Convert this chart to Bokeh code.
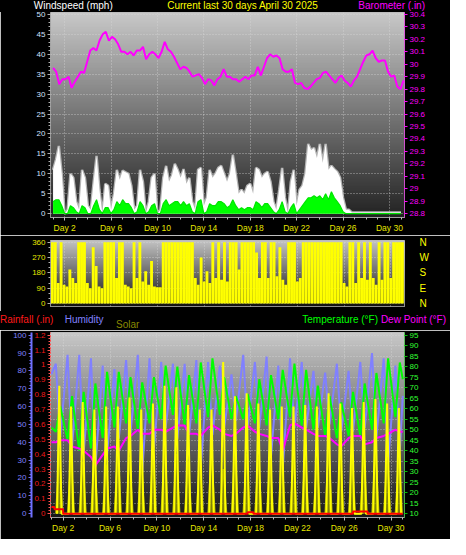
import numpy as np
from bokeh.plotting import figure
from bokeh.layouts import column
from bokeh.models import Range1d, LinearAxis, FixedTicker, CustomJSTickFormatter, Grid, Div
from bokeh.embed import file_html
from bokeh.resources import INLINE

# ------------------------------------------------------------------ data
TITLE = "Current last 30 days April 30 2025"
DAY_TICKS = [2, 6, 10, 14, 18, 22, 26, 30]
START_HOUR = 21          # data window starts Mar 31 21:00
SPAN_DAYS = 30.0

# Barometer (in), evenly sampled over the window
BARO = [29.97, 29.94, 29.84, 29.88, 29.88, 29.90, 29.81, 29.86, 29.90, 29.94,
        29.93, 30.02, 30.11, 30.13, 30.11, 30.19, 30.24, 30.26, 30.19, 30.22,
        30.20, 30.16, 30.10, 30.10, 30.08, 30.10, 30.07, 30.11, 30.11, 30.14,
        30.04, 30.08, 30.10, 30.08, 30.05, 30.10, 30.18, 30.12, 30.10, 30.06,
        30.01, 29.96, 29.98, 29.97, 29.94, 29.90, 29.91, 29.92, 29.89, 29.84,
        29.88, 29.87, 29.83, 29.88, 29.90, 29.96, 29.90, 29.90, 29.88, 29.88,
        29.86, 29.88, 29.90, 29.88, 29.91, 29.91, 29.98, 29.91, 29.98, 30.05,
        30.08, 30.06, 30.07, 30.05, 29.96, 29.94, 29.94, 29.96, 29.85, 29.84,
        29.85, 29.81, 29.80, 29.82, 29.85, 29.88, 29.89, 29.93, 29.94, 29.91,
        29.88, 29.85, 29.89, 29.91, 29.87, 29.85, 29.82, 29.87, 29.90, 29.96,
        30.02, 30.07, 30.08, 30.11, 30.05, 30.02, 30.03, 30.03, 29.94, 29.90,
        29.91, 29.82, 29.80, 29.87]
BARO_SPAN_DAYS = 30.22

# 6-hourly wind gust / average (mph), direction (deg), rain (in)
STEP_DAYS = 0.25
GUST = [11, 13.5, 17, 10, 0, 1, 10, 9, 3, 1, 11, 9, 2, 1, 8, 14.5, 6, 0, 7.5, 7,
        1, 5, 11, 8.5, 10.8, 10.4, 10, 7, 1, 2, 11, 8, 0, 3, 9, 10, 0, 1, 9, 12,
        8, 9.6, 12.5, 11, 9, 11.2, 7.5, 9,
        3, 1, 11, 11.5, 2, 4, 11, 9, 10, 11.5, 12, 10, 8, 10, 14.8, 10, 5, 6, 5, 7,
        7.5, 5, 11.5, 11, 9, 10, 10.5, 8, 3, 1, 6, 11.5, 4, 0, 8, 11, 2, 6, 7, 10,
        17.5, 16, 16.5, 14, 17.5, 12.8, 17.5, 11, 12, 11.2, 10.5, 9, 4, 1, 1, 0.3,
        0.3, 0.3, 0.3, 0.3, 0.3, 0.3, 0.3, 0.3, 0.3, 0.3, 0.3, 0.3, 0.3, 0.3, 0.3,
        0.3, 0.3]
AVG = [3, 3.5, 3.5, 2, 0, 0, 2, 1.5, 0.5, 0, 2, 1.5, 0, 0, 2, 3.5, 1, 0, 1.5, 1.5,
       0, 1, 3, 2, 3.5, 2.5, 2.5, 1.5, 0, 0.5, 3, 2, 0, 0.5, 2, 2.5, 0, 0, 2.5, 3.5,
       2, 2.5, 3, 3, 2, 3, 2, 2.5,
       0.5, 0, 3, 3.5, 0, 0.5, 2.5, 2, 2, 3, 3, 2.5, 1.5, 2, 3.5, 2, 1, 1.5, 1, 1.5,
       1.5, 1, 3, 2.5, 1.5, 2.5, 2.5, 1.5, 0.5, 0, 1, 3, 0.5, 0, 1.5, 2.5, 0, 1, 2, 3,
       4, 4, 4.5, 4, 4.5, 3.5, 5, 3.5, 5.5, 4, 3, 2, 0.5,
       0, 0, 0, 0, 0, 0, 0, 0, 0, 0, 0, 0, 0, 0, 0, 0, 0, 0, 0, 0]
WIND_DIR = [360, 360, 120, 360, 110, 100, 200, 150, 120, 360,
            360, 360, 120, 90, 330, 220, 100, 90, 360, 360,
            360, 360, 150, 360, 360, 110, 100, 90, 360, 150,
            360, 130, 190, 110, 250, 100, 95, 95, 360, 360,
            360, 360, 360, 360, 360, 360, 360, 360, 360, 150,
            110, 270, 130, 190, 120, 360, 150, 360, 140, 360,
            130, 360, 360, 360, 200, 360, 360, 360, 360, 360,
            300, 150, 360, 360, 150, 360, 360, 160, 330, 140,
            110, 360, 360, 360, 130, 150, 360, 360, 360, 360,
            360, 360, 360, 360, 360, 360, 360, 360, 360, 360,
            120, 100, 360, 360, 120, 360, 150, 360, 140, 360,
            150, 110, 360, 140, 360, 360, 150, 360, 360, 360,
            360]
RAIN = [0.045, 0.03, 0.03, 0.03] + [0.0] * 63 + [0.01, 0.01] + [0.0] * 34 + [0.015] * 5 + [0.0] * 13

# daily values, April 1 .. April 30
HUM_MAX = [84, 89, 89, 87, 83, 81, 86, 89, 87, 85, 84, 84, 86, 85, 83,
           78, 89, 85, 88, 83, 87, 85, 80, 79, 84, 80, 85, 90, 87, 83]
HUM_MIN = [43, 37, 34, 26, 33, 42, 45, 23, 37, 48, 42, 44, 26, 44, 48,
           52, 48, 48, 32, 25, 48, 48, 48, 50, 46, 46, 48, 43, 28, 35]
TEMP_MIN = [49, 45, 40, 41, 46, 51, 53, 50, 53, 55, 57, 52, 53, 56, 57,
            55, 55, 53, 52, 55, 56, 52, 50, 47, 46, 47, 47, 50, 53, 56]
TEMP_MAX = [61, 66, 68, 72, 77.5, 77.5, 75, 72.5, 75, 80.5, 80, 76, 82, 84, 75,
            66, 67, 74, 76, 78.5, 81.5, 78.5, 71, 66, 63, 68, 72, 77, 84, 82]
DEW_AM = [44, 45, 41, 37, 38, 42, 46, 50, 48, 50, 51, 52, 48, 51, 50,
          47, 51, 49, 47, 46, 52, 51, 48, 47, 43, 46, 47, 44, 47, 50]
DEW_PM = [45, 42, 40, 33, 41, 40, 47, 48, 50, 49, 52, 48, 47, 52, 48,
          48, 52, 48, 46, 40, 53, 50, 47, 46, 42, 47, 43, 46, 48, 49]
SOLAR_PEAK = [860, 720, 750, 700, 720, 720, 780, 700, 740, 860, 850, 730, 700, 700, 1020,
              790, 810, 740, 700, 720, 720, 730, 720, 810, 740, 710, 750, 770, 740, 710]
SOLAR_AVG = [420, 380, 350, 400, 330, 450, 380, 360, 420, 470, 400, 350, 380, 420, 300,
             450, 400, 380, 350, 420, 380, 400, 360, 450, 400, 380, 420, 450, 380, 400]
HUM_START, HUM_END = 78, 66
TEMP_START, TEMP_END = 51, 74
DEW_START, DEW_END = 44, 49

WIND_TICKS = [0, 5, 10, 15, 20, 25, 30, 35, 40, 45, 50]
BARO_TICKS = [28.8, 28.9, 29.0, 29.1, 29.2, 29.3, 29.4, 29.5, 29.6, 29.7, 29.8,
              29.9, 30.0, 30.1, 30.2, 30.3, 30.4]
DIR_TICKS = [0, 90, 180, 270, 360]
DIR_NAMES = ["N", "E", "S", "W", "N"]
HUM_TICKS = [0, 10, 20, 30, 40, 50, 60, 70, 80, 90, 100]
RAIN_TICKS = [0, 0.1, 0.2, 0.3, 0.4, 0.5, 0.6, 0.7, 0.8, 0.9, 1.0, 1.1, 1.2]
TEMP_TICKS = [10, 15, 20, 25, 30, 35, 40, 45, 50, 55, 60, 65, 70, 75, 80, 85, 90, 95]

# ------------------------------------------------------------------ derived x coordinates
xw = 1 + np.arange(len(GUST)) * STEP_DAYS
xb = 1 + np.linspace(0, BARO_SPAN_DAYS, len(BARO))
ndays = np.arange(len(TEMP_MAX))


def day_x(hour):
    return 1 + (24 - START_HOUR + 24 * ndays + hour) / 24.0


def pair(a, b, h1, h2, start, end):
    xs = np.concatenate([[1.0], np.column_stack([day_x(h1), day_x(h2)]).ravel(), [1 + SPAN_DAYS]])
    ys = np.concatenate([[start], np.column_stack([a, b]).ravel(), [end]])
    return xs, ys


hum_x, hum_y = pair(HUM_MAX, HUM_MIN, 6, 15, HUM_START, HUM_END)
tmp_x, tmp_y = pair(TEMP_MIN, TEMP_MAX, 6, 15, TEMP_START, TEMP_END)
dew_x, dew_y = pair(DEW_AM, DEW_PM, 6, 15, DEW_START, DEW_END)
zeros = np.zeros(len(SOLAR_PEAK))
sol_x = np.column_stack([day_x(8.5), day_x(13), day_x(17.5)]).ravel()
sol_y = np.column_stack([zeros, SOLAR_PEAK, zeros]).ravel()
sav_x = np.column_stack([day_x(6), day_x(13), day_x(20)]).ravel()
sav_y = np.column_stack([zeros, SOLAR_AVG, zeros]).ravel()

# ------------------------------------------------------------------ helpers
W = 450
FONT = "Liberation Sans"
NUMFMT = CustomJSTickFormatter(code="return String(Math.round(tick*100)/100);")
DAYFMT = CustomJSTickFormatter(code="return 'Day ' + tick;")


def gradient(n, top, bot):
    g = np.linspace(bot, top, n).astype(np.uint8)
    img = np.empty((n, 1), dtype=np.uint32)
    v = img.view(dtype=np.uint8).reshape((n, 1, 4))
    v[:, 0, 0] = g
    v[:, 0, 1] = g
    v[:, 0, 2] = g
    v[:, 0, 3] = 255
    return img


def make_fig(h, xr, yr, left, right, top, bottom, gtop, gbot):
    p = figure(width=W, height=h, x_range=Range1d(*xr), y_range=Range1d(*yr),
               output_backend="svg", toolbar_location=None,
               x_axis_location=None, y_axis_location=None,
               background_fill_color="black", border_fill_color="black",
               min_border_left=left, min_border_right=right,
               min_border_top=top, min_border_bottom=bottom,
               outline_line_color="#b8b8b8")
    p.grid.visible = False          # drop the default grids
    p.image_rgba(image=[gradient(120, gtop, gbot)], x=xr[0], y=yr[0],
                 dw=xr[1] - xr[0], dh=yr[1] - yr[0], level="image")
    return p


def header(h, items):
    spans = []
    for x, y, s, color, align in items:
        if align == "left":
            pos = f"left:{x}px;"
        elif align == "right":
            pos = f"right:{W - x}px;"
        else:
            pos = f"left:{x}px;transform:translateX(-50%);"
        spans.append(f'<span style="position:absolute;{pos}top:{y - 6}px;height:12px;'
                     f'line-height:12px;color:{color};white-space:nowrap;">{s}</span>')
    html = (f'<div style="position:relative;width:{W}px;height:{h}px;overflow:hidden;'
            f'background:#000;font-family:\'{FONT}\',sans-serif;font-size:10px;">'
            + "".join(spans) + "</div>")
    return Div(text=html, width=W, height=h, margin=(0, 0, 0, 0),
               styles={"background-color": "#000000"})


def style_axis(ax, label_color, line_color, tick_color, size="8px"):
    ax.major_label_text_color = label_color
    ax.major_label_text_font = FONT
    ax.major_label_text_font_size = size
    ax.axis_line_color = line_color
    ax.major_tick_line_color = tick_color
    ax.minor_tick_line_color = tick_color
    ax.major_tick_in = 0
    ax.major_tick_out = 3
    ax.minor_tick_in = 0
    ax.minor_tick_out = 2
    ax.major_label_standoff = 2


def day_axis(p):
    ax = LinearAxis(ticker=FixedTicker(ticks=DAY_TICKS, minor_ticks=list(range(1, 32))),
                    formatter=DAYFMT)
    style_axis(ax, "#e6e600", "#a0a0a0", "#c0c0c0", "8.5px")
    p.add_layout(ax, "below")


def grid(p, dim, ticks):
    p.add_layout(Grid(dimension=dim, ticker=FixedTicker(ticks=list(ticks)),
                      grid_line_color="#d8d8d8", grid_line_alpha=0.7, grid_line_dash="1 2"))


# ------------------------------------------------------------------ header of top panel
h1 = header(11, [(33.8, 5.4, "Windspeed (mph)", "#ffffff", "left"),
                 (242.5, 5.4, TITLE, "#ffff00", "center"),
                 (425, 5.4, "Barometer (.in)", "#ff00ff", "right")])

# ------------------------------------------------------------------ top: wind + barometer
yr1 = (-0.96, 50.48)
p1 = make_fig(224, (0.78, 31.3), yr1, 41, 46, 1, 16, 200, 35)
p1.extra_y_ranges = {"baro": Range1d(28.8 + yr1[0] * 0.032, 28.8 + yr1[1] * 0.032)}
grid(p1, 0, DAY_TICKS)
grid(p1, 1, WIND_TICKS)
day_axis(p1)
ya = LinearAxis(ticker=FixedTicker(ticks=WIND_TICKS, minor_ticks=list(range(0, 51))), formatter=NUMFMT)
style_axis(ya, "#d4e2ff", "#909090", "#b0b0b0")
ya.axis_line_dash = "1 1"
p1.add_layout(ya, "left")
yb = LinearAxis(y_range_name="baro", ticker=FixedTicker(ticks=BARO_TICKS), formatter=NUMFMT)
style_axis(yb, "#ff00ff", "#ff00ff", "#ff00ff")
yb.axis_line_dash = "1 1"
p1.add_layout(yb, "right")

p1.line(xw, GUST, line_color="#b4b4b4", line_width=2.5)
p1.varea(x=xw, y1=0, y2=GUST, fill_color="white")
p1.varea(x=xw, y1=0, y2=AVG, fill_color="#00ff00")
p1.line(xw, AVG, line_color="#00e600", line_width=1.2)
p1.line(xb, BARO, line_color="#ff00ff", line_width=2, y_range_name="baro")

# ------------------------------------------------------------------ middle: wind direction
p2 = make_fig(76, (0.84, 31.18), (-17.1, 369.7), 46, 42, 5, 5, 195, 18)
grid(p2, 0, DAY_TICKS)
grid(p2, 1, DIR_TICKS)
yd = LinearAxis(ticker=FixedTicker(ticks=DIR_TICKS, minor_ticks=list(range(0, 361, 30))), formatter=NUMFMT)
style_axis(yd, "#e6e600", "#909090", "#b0b0b0")
p2.add_layout(yd, "left")
ydn = LinearAxis(ticker=FixedTicker(ticks=DIR_TICKS),
                 formatter=CustomJSTickFormatter(args=dict(names=DIR_NAMES),
                                                 code="return names[Math.round(tick/90)];"))
style_axis(ydn, "#ffff00", None, None, "10px")
ydn.minor_tick_line_color = None
ydn.major_label_standoff = 12
p2.add_layout(ydn, "right")
p2.vbar(x=xw, width=0.245, top=WIND_DIR, bottom=0, fill_color="#ffff00", line_color=None)

# ------------------------------------------------------------------ header of bottom panel
h3 = header(19, [(0, 9.2, "Rainfall (.in)", "#ff1a1a", "left"),
                 (64.7, 9.2, "Humidity", "#8080ff", "left"),
                 (116, 13.8, "Solar", "#8a8a00", "left"),
                 (378, 9.2, "Temperature (°F)", "#00ff00", "right"),
                 (446, 9.2, "Dew Point (°F)", "#ff00ff", "right")])

# ------------------------------------------------------------------ bottom: rain / humidity / solar / temperature
yr3 = (-2.16, 101.5)
p3 = make_fig(209, (0.918, 31.15), yr3, 50, 45, 2, 22, 200, 25)
p3.extra_y_ranges = {
    "rain": Range1d(yr3[0] * 0.012, yr3[1] * 0.012),
    "temp": Range1d(10 + yr3[0] * 0.85, 10 + yr3[1] * 0.85),
    "solar": Range1d(yr3[0] * 12, yr3[1] * 12),
}
grid(p3, 0, DAY_TICKS)
grid(p3, 1, [(t - 10) / 0.85 for t in TEMP_TICKS])
day_axis(p3)
yrain = LinearAxis(y_range_name="rain", ticker=FixedTicker(ticks=RAIN_TICKS,
                   minor_ticks=[i * 0.02 for i in range(61)]), formatter=NUMFMT)
style_axis(yrain, "#ee1a1a", "#ff5050", "#ff5050")
yrain.axis_line_dash = "2 2"
p3.add_layout(yrain, "left")
yhum = LinearAxis(ticker=FixedTicker(ticks=HUM_TICKS, minor_ticks=list(range(0, 101, 2))), formatter=NUMFMT)
style_axis(yhum, "#8080ff", "#7070ff", "#7070ff")
yhum.axis_line_width = 2
p3.add_layout(yhum, "left")
ytmp = LinearAxis(y_range_name="temp", ticker=FixedTicker(ticks=TEMP_TICKS), formatter=NUMFMT)
style_axis(ytmp, "#33ff33", "#00c000", "#00c000")
ytmp.axis_line_dash = "1 1"
p3.add_layout(ytmp, "right")

p3.line(hum_x, hum_y, line_color="#8080ff", line_width=2)
p3.line(tmp_x, tmp_y, line_color="#00ff00", line_width=2, y_range_name="temp")
p3.line(dew_x, dew_y, line_color="#ff00ff", line_width=2, y_range_name="temp")
p3.varea(x=sav_x, y1=0, y2=sav_y, fill_color="#a0a000", fill_alpha=0.75, y_range_name="solar")
p3.line(sav_x, sav_y, line_color="#b0b000", line_width=1.5, y_range_name="solar")
p3.line(sol_x, sol_y, line_color="#ffff00", line_width=2, y_range_name="solar")
p3.step(xw, RAIN, mode="after", line_color="#ff0000", line_width=2, y_range_name="rain")

layout = column(h1, p1, p2, h3, p3, spacing=0)
open("out.html", "w").write(file_html(layout, INLINE))
